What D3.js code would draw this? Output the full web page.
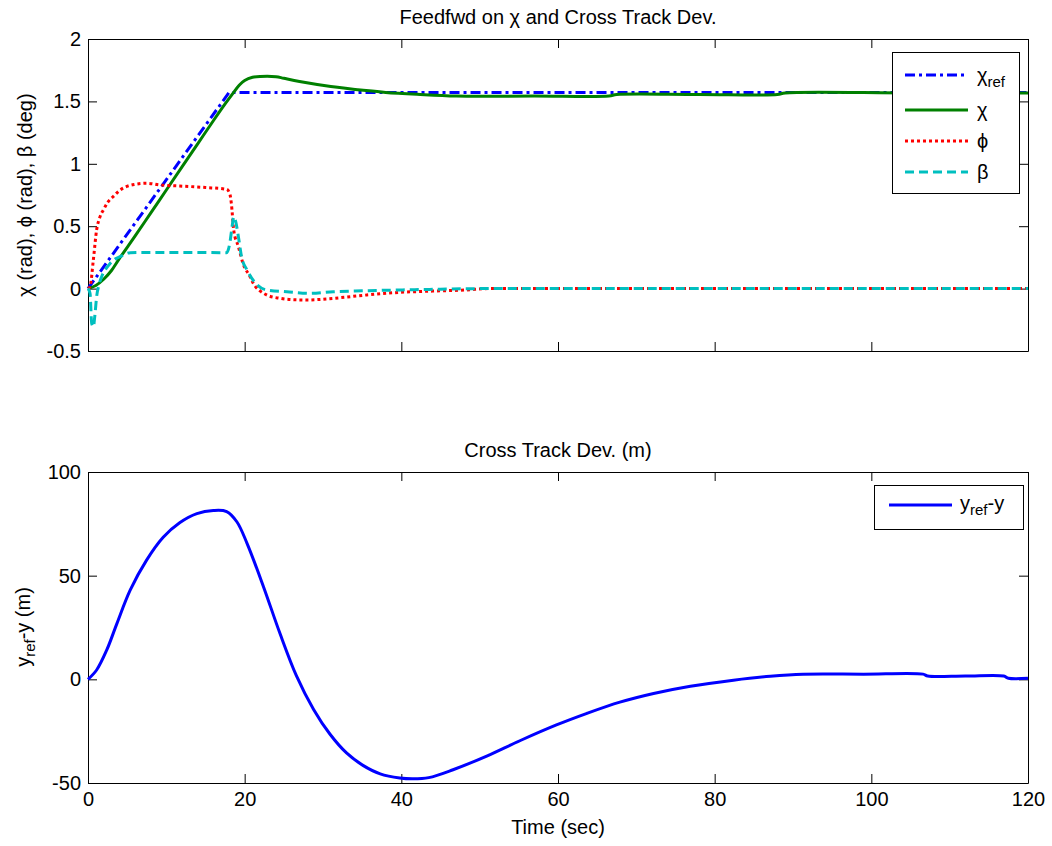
<!DOCTYPE html>
<html>
<head>
<meta charset="utf-8">
<script src="https://cdn.jsdelivr.net/npm/d3@7"></script>
<style>
  body { margin: 0; background: #fff; }
  text { font-family: "Liberation Sans", Arial, sans-serif; }
</style>
</head>
<body>
<svg id="chart" width="1052" height="846"></svg>
<script>
// time ticks shared by both panels
const xTicks = [0, 20, 40, 60, 80, 100, 120];
const topYTicks = [-0.5, 0, 0.5, 1, 1.5, 2];
const botYTicks = [-50, 0, 50, 100];

// chi_ref (rad)
const chiRefT = [0, 18, 120];
const chiRef = [0, 1.5708, 1.5708];

// chi (rad)
const chiT = [0, 1, 2, 3, 4, 6, 8, 10, 12, 14, 16, 17.5, 18.5, 19.3, 20, 21, 22, 24, 25, 27, 31, 35.5, 38, 42, 47, 57, 66.5, 67.5, 78, 88, 89, 105, 120];
const chi = [0, 0.025, 0.075, 0.145, 0.24, 0.42, 0.605, 0.79, 0.975, 1.16, 1.345, 1.48, 1.565, 1.63, 1.668, 1.693, 1.70, 1.698, 1.685, 1.66, 1.62, 1.587, 1.572, 1.557, 1.543, 1.543, 1.543, 1.555, 1.555, 1.555, 1.568, 1.568, 1.568];

// phi (rad)
const phiT = [0, 0.26, 0.68, 1.1, 1.5, 1.96, 2.5, 3.2, 4, 4.9, 6, 7.5, 9.2, 11.7, 15, 17.7, 18.1, 18.3, 18.6, 19.2, 19.8, 20.7, 21.1, 22, 22.8, 24.5, 26.6, 28, 31.3, 35.6, 39.8, 44, 48.3, 51.3, 120];
const phi = [0, 0.015, 0.229, 0.47, 0.57, 0.63, 0.69, 0.736, 0.785, 0.817, 0.835, 0.844, 0.83, 0.822, 0.81, 0.795, 0.76, 0.683, 0.47, 0.336, 0.2, 0.095, 0.042, -0.02, -0.051, -0.078, -0.09, -0.091, -0.078, -0.051, -0.03, -0.02, -0.011, 0, 0];

// beta (deg)
const betaT = [0, 0.26, 0.47, 0.68, 0.9, 1.1, 1.4, 1.74, 2.3, 2.8, 3.4, 4.1, 5.4, 8, 12, 17.7, 18.1, 18.4, 18.6, 18.8, 19.2, 19.6, 20.3, 21.4, 22.8, 25.4, 28.3, 31.3, 35, 39.8, 45, 50.4, 120];
const beta = [0, -0.038, -0.278, -0.305, -0.2, -0.065, 0.03, 0.095, 0.16, 0.2, 0.235, 0.256, 0.288, 0.29, 0.29, 0.288, 0.363, 0.5, 0.576, 0.55, 0.416, 0.256, 0.149, 0.042, -0.011, -0.025, -0.038, -0.025, -0.018, -0.011, -0.005, 0, 0];

// cross track deviation (m)
const devT = [0, 1.1, 2.4, 3.7, 5.4, 7.5, 9.6, 11.7, 13.9, 16, 17.7, 19, 20.3, 22.4, 24.5, 26.6, 28.8, 30.9, 33, 35.1, 37.3, 39.8, 41.5, 43.5, 46.6, 50.9, 55.2, 59.8, 63.7, 67.9, 72.2, 76.9, 82.4, 87.1, 91.3, 99, 106.6, 107.2, 112, 116.9, 117.5, 120];
const dev = [0, 4.5, 14.2, 27, 43.1, 57.6, 68.5, 75.5, 79.9, 81.4, 80.9, 76, 65.6, 44.7, 22.2, 1.8, -14.5, -26.5, -35.5, -41.5, -45.6, -47.6, -48, -47.4, -43.6, -37, -29.5, -22, -16.4, -11, -6.8, -3.3, -0.4, 1.5, 2.5, 2.5, 2.5, 1.6, 1.6, 1.6, 0.5, 0.5];

const svg = d3.select('#chart');
svg.append('rect').attr('width', 1052).attr('height', 846).attr('fill', '#fff');

const FONT = 20;
const left = 88, right = 1028;
const smooth = d3.curveCatmullRom.alpha(0.5);

function panel(top, bottom, yDomain, yTicks, xLabels) {
    const x = d3.scaleLinear().domain([0, 120]).range([left, right]);
    const y = d3.scaleLinear().domain(yDomain).range([bottom, top]);
    const g = svg.append('g');
    const fmt = d => String(d);

    const styleAxis = sel => {
        sel.attr('font-size', FONT).attr('font-family', '"Liberation Sans", Arial, sans-serif');
        sel.selectAll('text').attr('fill', '#000');
        sel.selectAll('line,path').attr('stroke', '#000');
    };

    g.append('g').attr('transform', `translate(0,${bottom})`)
        .call(d3.axisBottom(x).tickValues(xTicks).tickSizeInner(-9).tickSizeOuter(0)
            .tickPadding(9).tickFormat(xLabels ? fmt : () => ''))
        .call(styleAxis);
    g.append('g').attr('transform', `translate(0,${top})`)
        .call(d3.axisTop(x).tickValues(xTicks).tickSizeInner(-9).tickSizeOuter(0).tickFormat(() => ''))
        .call(styleAxis);
    g.append('g').attr('transform', `translate(${left},0)`)
        .call(d3.axisLeft(y).tickValues(yTicks).tickSizeInner(-9).tickSizeOuter(0)
            .tickPadding(7).tickFormat(fmt))
        .call(styleAxis);
    g.append('g').attr('transform', `translate(${right},0)`)
        .call(d3.axisRight(y).tickValues(yTicks).tickSizeInner(-9).tickSizeOuter(0).tickFormat(() => ''))
        .call(styleAxis);

    return { x, y, g };
}

function drawLine(p, ts, vs, color, dash, width, curve) {
    const line = d3.line()
        .x(d => p.x(d[0]))
        .y(d => p.y(d[1]))
        .curve(curve);
    p.g.append('path')
        .datum(ts.map((t, i) => [t, vs[i]]))
        .attr('fill', 'none')
        .attr('stroke', color)
        .attr('stroke-width', width)
        .attr('stroke-dasharray', dash)
        .attr('d', line);
}

const series = [
    { t: chiRefT, v: chiRef, color: '#0000ff', dash: '10,4,3,4', curve: d3.curveLinear, label: ['χ', 'ref'] },
    { t: chiT, v: chi, color: '#008000', dash: null, curve: smooth, label: ['χ', ''] },
    { t: phiT, v: phi, color: '#ff0000', dash: '3,3', curve: d3.curveMonotoneX, label: ['ϕ', ''] },
    { t: betaT, v: beta, color: '#00bfbf', dash: '9,5', curve: d3.curveMonotoneX, label: ['β', ''] }
];

// ---- top panel
const p1 = panel(39, 351, [-0.5, 2], topYTicks, false);
series.forEach(s => drawLine(p1, s.t, s.v, s.color, s.dash, 3, s.curve));

svg.append('text').attr('x', (left + right) / 2).attr('y', 24)
    .attr('text-anchor', 'middle').attr('font-size', FONT)
    .text('Feedfwd on χ and Cross Track Dev.');

svg.append('text').attr('transform', 'translate(32,195) rotate(-90)')
    .attr('text-anchor', 'middle').attr('font-size', FONT)
    .text('χ (rad), ϕ (rad), β (deg)');

// legend top
const lg1 = svg.append('g');
lg1.append('rect').attr('x', 892.5).attr('y', 52.5).attr('width', 127).attr('height', 141)
    .attr('fill', '#fff').attr('stroke', '#000');
const legY = [75, 110, 141, 172];
series.forEach((s, i) => {
    lg1.append('line').attr('x1', 905).attr('x2', 968).attr('y1', legY[i]).attr('y2', legY[i])
        .attr('stroke', s.color).attr('stroke-width', 3).attr('stroke-dasharray', s.dash);
    const t = lg1.append('text').attr('x', 977).attr('y', legY[i] + 7).attr('font-size', FONT);
    t.append('tspan').text(s.label[0]);
    if (s.label[1]) t.append('tspan').attr('dy', 5).attr('font-size', 15).text(s.label[1]);
});

// ---- bottom panel
const p2 = panel(472, 783, [-50, 100], botYTicks, true);
drawLine(p2, devT, dev, '#0000ff', null, 3, smooth);

svg.append('text').attr('x', (left + right) / 2).attr('y', 457)
    .attr('text-anchor', 'middle').attr('font-size', FONT)
    .text('Cross Track Dev. (m)');

svg.append('text').attr('x', (left + right) / 2).attr('y', 834)
    .attr('text-anchor', 'middle').attr('font-size', FONT)
    .text('Time (sec)');

const yl = svg.append('text').attr('transform', 'translate(30,627) rotate(-90)')
    .attr('text-anchor', 'middle').attr('font-size', FONT);
yl.append('tspan').text('y');
yl.append('tspan').attr('dy', 5).attr('font-size', 15).text('ref');
yl.append('tspan').attr('dy', -5).text('-y (m)');

const lg2 = svg.append('g');
lg2.append('rect').attr('x', 874.5).attr('y', 485.5).attr('width', 149).attr('height', 44)
    .attr('fill', '#fff').attr('stroke', '#000');
lg2.append('line').attr('x1', 889).attr('x2', 952).attr('y1', 505).attr('y2', 505)
    .attr('stroke', '#0000ff').attr('stroke-width', 3);
const lt = lg2.append('text').attr('x', 960).attr('y', 510).attr('font-size', FONT);
lt.append('tspan').text('y');
lt.append('tspan').attr('dy', 5).attr('font-size', 15).text('ref');
lt.append('tspan').attr('dy', -5).text('-y');
</script>
</body>
</html>
